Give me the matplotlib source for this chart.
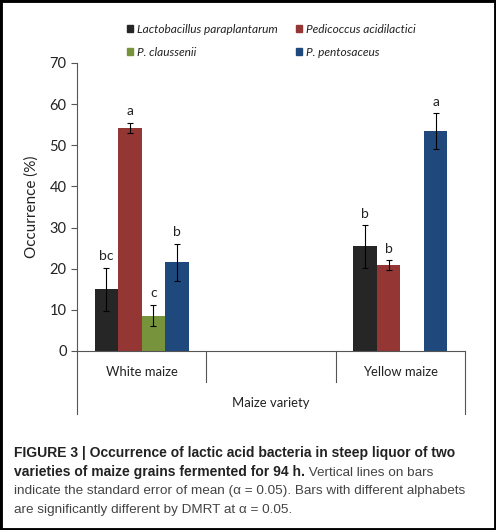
import numpy as np
import matplotlib
matplotlib.use("Agg")
import matplotlib.pyplot as plt
from matplotlib.patches import Patch, Rectangle

# data
varieties = ["White maize", "", "Yellow maize"]
species = ["Lactobacillus paraplantarum", "Pedicoccus acidilactici",
           "P. claussenii", "P. pentosaceus"]
colors = ["#262626", "#943634", "#77933C", "#1F497D"]

lacto = [15.0, np.nan, 25.4]
pedio = [54.2, np.nan, 20.8]
claus = [8.6, np.nan, np.nan]
pento = [21.6, np.nan, 53.4]

lacto_err = [5.2, np.nan, 5.2]
pedio_err = [1.3, np.nan, 1.2]
claus_err = [2.6, np.nan, np.nan]
pento_err = [4.5, np.nan, 4.4]

lacto_lbl = ["bc", "", "b"]
pedio_lbl = ["a", "", "b"]
claus_lbl = ["c", "", ""]
pento_lbl = ["b", "", "a"]

series = [lacto, pedio, claus, pento]
errors = [lacto_err, pedio_err, claus_err, pento_err]
letters = [lacto_lbl, pedio_lbl, claus_lbl, pento_lbl]

font = "Lato"
plt.rcParams["font.family"] = [font, "DejaVu Sans"]

fig = plt.figure(figsize=(4.96, 5.30), dpi=100)
ax = fig.add_axes([77 / 496, 1 - 351 / 530, 388 / 496, 288 / 530])

x = np.arange(len(varieties))
w = 0.182
for i, (vals, errs, lbls) in enumerate(zip(series, errors, letters)):
    pos = x + (i - 1.5) * w
    ax.bar(pos, vals, w, color=colors[i], label=species[i])
    ax.errorbar(pos, vals, yerr=errs, fmt="none", ecolor="black",
                elinewidth=0.8, capsize=2.5, capthick=0.8)
    for p, v, e, t in zip(pos, vals, errs, lbls):
        if t:
            ax.annotate(t, (p, v + e), xytext=(0, 4), textcoords="offset points",
                        ha="center", va="bottom", fontsize=10, color="#222222")

ax.set_xlim(-0.5, 2.5)
ax.set_ylim(0, 70)
ax.set_yticks(range(0, 71, 10))
ax.set_xticks([])
ax.tick_params(axis="y", labelsize=10.5, length=4, width=0.8, color="#555555",
               labelcolor="#222222")
for s in ["top", "right"]:
    ax.spines[s].set_visible(False)
for s in ["left", "bottom"]:
    ax.spines[s].set_color("#555555")
    ax.spines[s].set_linewidth(0.8)
ax.set_ylabel("Occurrence (%)", fontsize=11, color="#222222", labelpad=8)

# category divider lines below the axis
tr = ax.get_xaxis_transform()
for xv, y0 in [(-0.5, -0.22), (0.5, -0.108), (1.5, -0.108), (2.5, -0.22)]:
    ax.plot([xv, xv], [0, y0], transform=tr, color="#555555", lw=0.8, clip_on=False)
for xv, name in zip(x, varieties):
    if name:
        ax.text(xv, -0.072, name, transform=tr, ha="center", va="center",
                fontsize=9.4, color="#222222")
ax.text(1.0, -0.18, "Maize variety", transform=tr, ha="center", va="center",
        fontsize=9.4, color="#222222")

# legend: 2 columns, filled column-wise
order = [0, 2, 1, 3]
handles = [Patch(color=colors[k]) for k in order]
leg = ax.legend(handles, [species[k] for k in order], ncol=2, loc="lower left",
                frameon=False, bbox_to_anchor=(0.113, 0.998), handlelength=0.55,
                handleheight=0.55, handletextpad=0.3, columnspacing=1.5,
                labelspacing=1.0, borderpad=0,
                prop={"family": font, "style": "italic", "size": 8.6})
for t in leg.get_texts():
    t.set_color("#222222")

# caption
cap = "Liberation Sans"
fs = 10
fs2 = 9.7
fig.text(14 / 496, 1 - 453 / 530,
         "FIGURE 3 | Occurrence of lactic acid bacteria in steep liquor of two",
         fontsize=fs, fontweight="bold", family=cap, va="center", color="#222222")
b2 = fig.text(14 / 496, 1 - 472 / 530, "varieties of maize grains fermented for 94 h.",
              fontsize=fs, fontweight="bold", family=cap, va="center", color="#222222")
ax.annotate(" Vertical lines on bars", xy=(1, 0), xycoords=b2, va="bottom",
            fontsize=fs2, family=cap, color="#444444", annotation_clip=False)
fig.text(14 / 496, 1 - 491 / 530,
         "indicate the standard error of mean (\u03b1 = 0.05). Bars with different alphabets",
         fontsize=fs2, family=cap, va="center", color="#444444")
fig.text(14 / 496, 1 - 510 / 530,
         "are significantly different by DMRT at \u03b1 = 0.05.",
         fontsize=fs2, family=cap, va="center", color="#444444")

fig.add_artist(Rectangle((0, 0), 1, 1, transform=fig.transFigure, fill=False,
                         edgecolor="black", linewidth=3.5))

fig.savefig("out.png", dpi=100)
